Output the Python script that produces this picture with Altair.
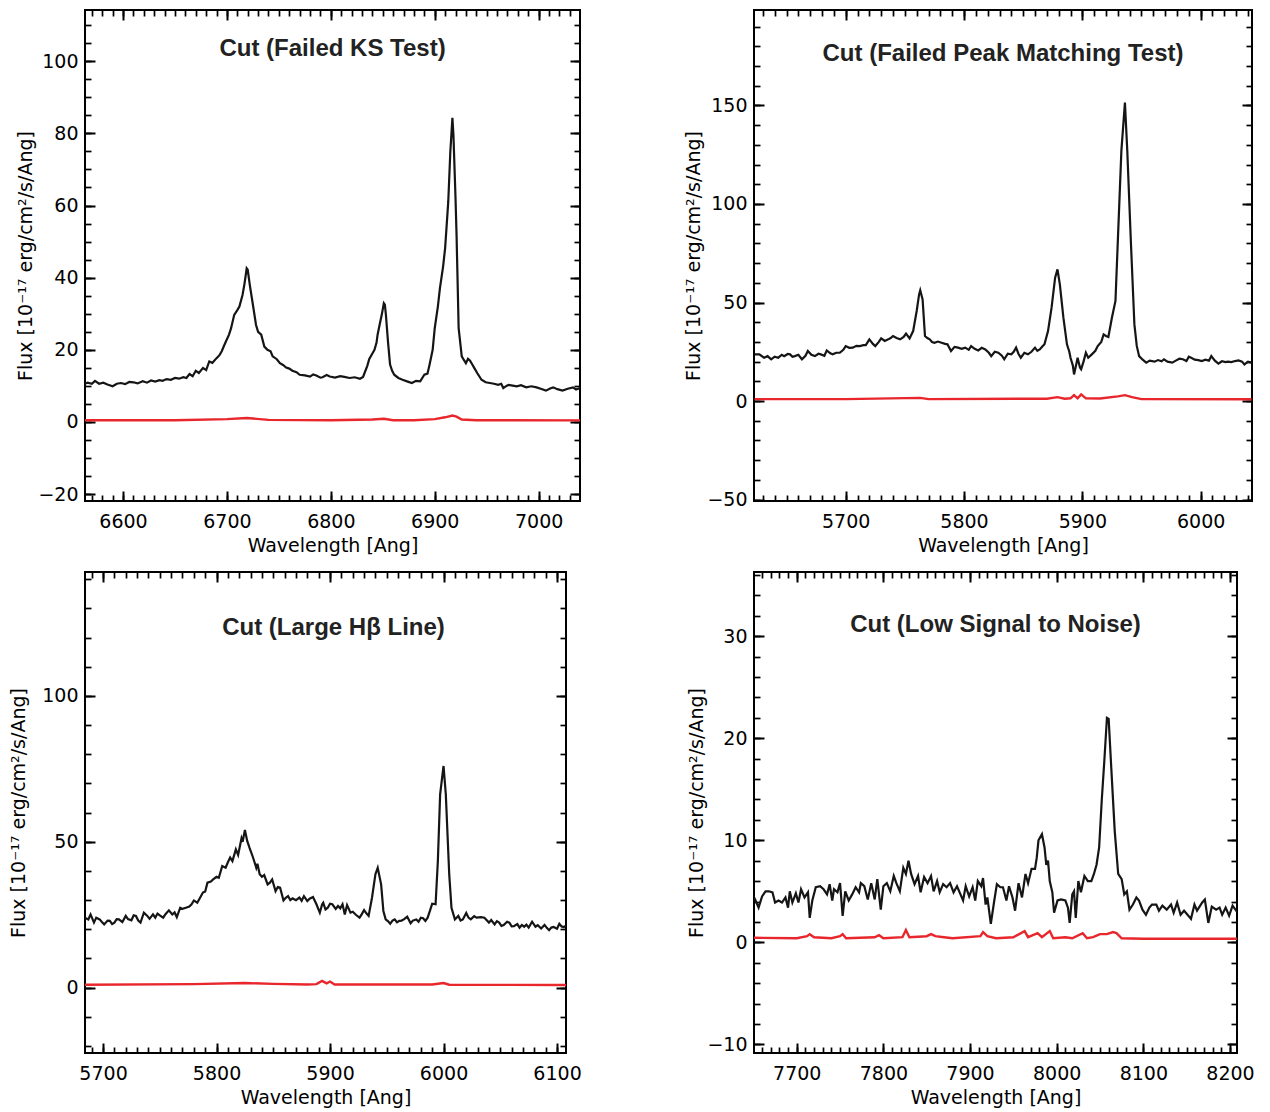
import altair as alt
import pandas as pd

# ---------------- data ----------------
P1_BLACK = [(6562,10.5),(6566,10.9),(6570,10.6),(6573,11.4),(6577,10.6),(6581,10.9),(6585,10.4),(6590,9.9),(6594,10.6),(6598,10.8),(6602,10.5),(6606,11.1),(6610,11.0),(6614,10.7),(6619,11.3),(6623,10.9),(6627,11.5),(6631,11.2),(6635,11.6),(6638,11.4),(6642,11.9),(6646,11.7),(6650,12.2),(6654,12.0),(6658,12.4),(6661,12.2),(6664,13.3),(6667,12.7),(6670,14.2),(6673,13.6),(6677,15.0),(6680,14.4),(6683,16.8),(6686,16.4),(6690,17.7),(6693,18.6),(6695,19.6),(6697,21.0),(6699,22.3),(6702,24.2),(6704,26.0),(6707,29.7),(6710,31.0),(6712,32.0),(6715,35.2),(6717,38.5),(6719,42.6),(6720,42.2),(6722,38.0),(6725,32.5),(6728,26.9),(6730,25.0),(6733,24.2),(6736,20.9),(6739,20.0),(6742,19.6),(6744,18.2),(6748,17.4),(6751,16.3),(6754,15.8),(6757,15.1),(6760,14.8),(6763,14.2),(6767,13.8),(6770,13.1),(6775,12.9),(6780,12.6),(6783,13.2),(6786,12.9),(6790,12.3),(6792,12.4),(6796,13.0),(6799,12.6),(6804,12.3),(6809,12.7),(6813,12.5),(6818,12.2),(6823,12.4),(6828,12.0),(6831,12.5),(6833,14.0),(6835,15.5),(6837,17.5),(6840,19.0),(6842,20.0),(6844,22.0),(6845,24.2),(6847,27.0),(6849,29.7),(6851,32.9),(6852,32.5),(6853,29.7),(6855,22.3),(6857,15.9),(6859,14.2),(6861,13.1),(6865,12.2),(6869,11.7),(6874,11.2),(6878,10.8),(6882,11.4),(6886,11.3),(6890,13.1),(6893,13.4),(6895,15.9),(6898,20.0),(6900,26.0),(6903,32.0),(6905,37.1),(6908,43.0),(6910,48.2),(6913,61.0),(6915,74.9),(6917,84.3),(6918,79.5),(6920,62.0),(6921,51.8),(6923,26.0),(6926,18.2),(6928,17.2),(6930,16.3),(6932,17.5),(6934,17.0),(6936,16.0),(6938,15.0),(6941,13.5),(6945,11.7),(6949,11.0),(6953,10.8),(6957,10.6),(6961,10.3),(6964,10.6),(6966,9.4),(6969,10.0),(6971,10.3),(6975,10.1),(6979,9.9),(6983,10.2),(6988,9.6),(6993,9.9),(6998,9.6),(7002,9.2),(7007,8.7),(7011,9.3),(7014,9.6),(7018,9.1),(7023,8.7),(7028,9.2),(7033,9.6),(7036,9.0),(7040,9.4)]
P1_RED = [(6562,0.5),(6650,0.5),(6700,0.8),(6719,1.1),(6740,0.6),(6800,0.5),(6840,0.7),(6851,0.9),(6860,0.5),(6880,0.5),(6900,0.8),(6910,1.3),(6917,1.8),(6921,1.5),(6926,0.7),(6940,0.5),(7040,0.45)]

P2_BLACK = [(5623,23.7),(5627,23.7),(5631,22.0),(5634,22.8),(5637,21.2),(5640,22.5),(5643,22.0),(5646,23.5),(5648,22.8),(5651,23.9),(5653,23.7),(5655,22.5),(5657,22.8),(5660,23.5),(5663,21.2),(5666,23.0),(5668,25.4),(5671,23.5),(5674,22.8),(5677,24.0),(5679,23.7),(5682,23.0),(5684,25.7),(5687,24.2),(5689,23.7),(5692,24.5),(5695,24.5),(5698,26.0),(5700,27.9),(5703,27.0),(5706,27.1),(5709,28.0),(5712,27.9),(5715,28.4),(5717,28.4),(5720,31.3),(5723,29.0),(5725,27.9),(5728,30.0),(5730,31.8),(5733,30.5),(5736,31.3),(5738,32.0),(5740,33.0),(5743,32.0),(5746,31.3),(5749,32.5),(5751,34.2),(5754,31.8),(5757,35.5),(5760,45.7),(5762,54.0),(5763,56.2),(5765,51.6),(5767,33.0),(5769,32.0),(5771,31.3),(5773,30.0),(5775,29.6),(5778,30.2),(5781,29.6),(5784,29.0),(5786,28.8),(5789,25.4),(5792,27.5),(5795,27.1),(5798,26.5),(5801,27.1),(5804,26.0),(5806,27.9),(5809,26.5),(5812,25.7),(5815,27.0),(5818,26.2),(5821,24.5),(5823,22.8),(5826,25.0),(5829,24.5),(5832,23.0),(5834,21.2),(5837,24.0),(5840,23.7),(5842,25.0),(5844,27.1),(5846,24.0),(5848,22.0),(5851,24.5),(5854,23.7),(5857,25.0),(5860,27.1),(5862,25.5),(5864,26.2),(5866,27.5),(5868,28.8),(5871,35.5),(5874,47.4),(5877,62.6),(5879,66.8),(5881,59.2),(5884,42.3),(5887,28.8),(5889,25.0),(5890,22.0),(5892,18.0),(5893,13.5),(5895,19.0),(5896,22.0),(5898,17.0),(5899,16.1),(5901,20.0),(5903,24.5),(5905,22.0),(5908,23.7),(5911,25.5),(5913,27.9),(5916,30.0),(5918,33.8),(5920,33.0),(5922,32.5),(5925,42.3),(5928,50.8),(5930,81.2),(5933,126.9),(5936,151.4),(5938,126.9),(5941,81.2),(5944,38.9),(5946,28.0),(5948,22.8),(5951,21.0),(5954,19.5),(5957,20.5),(5961,20.0),(5964,20.8),(5967,20.2),(5969,21.2),(5972,20.0),(5976,19.5),(5979,20.5),(5982,21.5),(5985,21.2),(5988,20.3),(5990,22.5),(5992,22.0),(5995,21.0),(5998,20.8),(6001,20.3),(6004,21.0),(6007,20.5),(6009,22.8),(6012,20.5),(6015,19.0),(6018,20.2),(6021,19.8),(6023,20.0),(6026,19.8),(6029,20.3),(6032,20.6),(6035,20.0),(6037,18.6),(6040,20.0),(6043,19.5)]
P2_RED = [(5623,1.0),(5700,1.0),(5763,1.6),(5770,1.0),(5870,1.2),(5879,2.0),(5885,1.2),(5890,1.4),(5893,3.0),(5896,1.4),(5899,3.4),(5903,1.4),(5915,1.3),(5930,2.4),(5936,3.0),(5942,2.0),(5950,1.0),(6043,0.9)]

P3_BLACK = [(5684,24.0),(5687,23.4),(5689,25.1),(5692,22.3),(5694,24.0),(5697,23.4),(5699,22.5),(5701,21.7),(5704,23.0),(5706,22.9),(5708,21.8),(5710,22.3),(5712,23.5),(5714,23.4),(5717,22.5),(5720,24.6),(5722,23.5),(5725,23.1),(5727,24.8),(5729,24.6),(5731,23.0),(5733,22.3),(5736,25.7),(5739,24.6),(5741,23.6),(5744,25.1),(5746,24.0),(5748,25.4),(5750,24.8),(5753,24.0),(5755,25.2),(5758,26.5),(5761,25.1),(5763,25.8),(5765,24.2),(5768,27.4),(5770,27.0),(5773,27.4),(5776,27.8),(5778,28.6),(5780,29.9),(5783,29.1),(5785,30.5),(5788,32.6),(5790,33.0),(5792,36.0),(5795,36.4),(5797,37.1),(5800,38.0),(5802,37.7),(5805,41.7),(5808,41.1),(5810,43.0),(5812,44.6),(5814,43.4),(5817,47.4),(5819,45.5),(5822,51.2),(5823,50.0),(5825,54.1),(5827,50.3),(5829,48.0),(5832,44.8),(5835,41.1),(5836,42.5),(5838,38.9),(5840,38.0),(5842,38.6),(5845,35.4),(5847,36.0),(5849,37.1),(5852,33.1),(5854,34.5),(5856,34.3),(5859,29.9),(5861,30.8),(5863,31.4),(5865,30.0),(5867,30.6),(5870,30.0),(5873,30.9),(5875,29.8),(5877,31.4),(5880,29.7),(5882,30.5),(5885,31.1),(5888,28.6),(5891,25.7),(5893,28.5),(5894,29.1),(5896,26.8),(5898,27.4),(5900,28.8),(5902,28.6),(5905,27.0),(5907,28.0),(5909,27.2),(5911,28.6),(5913,25.1),(5915,28.3),(5918,25.7),(5920,26.0),(5923,24.9),(5926,24.0),(5928,25.2),(5930,26.6),(5932,25.5),(5934,24.6),(5937,30.9),(5940,38.9),(5942,41.1),(5945,35.4),(5947,26.3),(5949,23.4),(5951,22.8),(5953,21.9),(5955,23.0),(5957,23.4),(5959,22.4),(5961,22.9),(5963,23.0),(5965,23.4),(5968,24.3),(5971,22.1),(5973,23.0),(5976,23.4),(5978,22.6),(5980,24.0),(5982,23.8),(5984,22.9),(5986,24.0),(5988,26.3),(5990,28.8),(5993,28.6),(5995,43.4),(5997,66.3),(6000,76.0),(6002,66.3),(6005,38.9),(6007,27.4),(6010,23.4),(6013,24.6),(6015,23.0),(6017,23.4),(6020,25.6),(6022,24.0),(6024,23.4),(6027,24.5),(6029,24.0),(6033,24.2),(6036,24.0),(6040,22.3),(6042,23.2),(6045,21.7),(6047,22.8),(6049,22.3),(6051,21.2),(6053,21.5),(6056,22.6),(6058,22.3),(6060,21.0),(6062,21.1),(6065,21.8),(6067,20.6),(6069,21.5),(6071,20.9),(6073,21.6),(6075,20.6),(6078,22.6),(6081,20.9),(6083,21.4),(6086,20.3),(6089,21.5),(6091,20.5),(6093,19.7),(6095,20.6),(6097,20.8),(6100,20.2),(6102,21.9),(6104,21.0),(6106,20.8),(6108,21.2)]
P3_RED = [(5684,1.0),(5780,1.2),(5825,1.6),(5850,1.3),(5880,1.1),(5888,1.2),(5893,2.3),(5897,1.5),(5900,2.1),(5904,1.1),(5990,1.1),(6000,1.6),(6005,1.0),(6108,0.9)]

P4_BLACK = [(7644,5.7),(7646,3.7),(7649,4.7),(7652,4.2),(7656,3.4),(7660,4.5),(7664,5.0),(7668,5.0),(7672,4.9),(7675,3.9),(7679,4.1),(7683,3.9),(7687,4.4),(7690,3.4),(7692,5.0),(7695,3.9),(7699,4.8),(7702,3.9),(7705,5.2),(7709,4.4),(7713,4.9),(7715,2.4),(7718,4.1),(7722,5.4),(7727,5.5),(7731,5.2),(7735,4.7),(7738,5.7),(7741,4.1),(7743,5.2),(7747,4.9),(7750,5.8),(7753,2.6),(7756,5.0),(7760,4.1),(7764,4.7),(7768,5.4),(7772,4.9),(7774,5.8),(7778,5.5),(7782,4.2),(7786,5.8),(7790,4.2),(7793,6.2),(7797,3.2),(7800,5.5),(7804,5.8),(7808,5.0),(7812,6.5),(7815,5.8),(7819,5.0),(7823,7.3),(7826,6.7),(7829,8.0),(7832,6.7),(7836,5.7),(7840,6.5),(7843,4.9),(7847,6.4),(7851,5.8),(7855,6.5),(7858,5.0),(7862,6.0),(7865,4.9),(7869,5.7),(7873,5.4),(7877,5.8),(7881,4.9),(7885,5.5),(7888,4.9),(7892,4.1),(7895,5.5),(7899,4.5),(7903,5.4),(7906,4.1),(7909,6.0),(7913,5.5),(7915,6.3),(7918,3.7),(7920,4.4),(7924,1.8),(7928,4.1),(7931,5.7),(7935,5.4),(7938,5.4),(7942,4.1),(7945,5.5),(7949,4.4),(7952,3.1),(7956,5.8),(7960,4.4),(7964,6.7),(7967,5.8),(7971,7.2),(7975,7.2),(7977,8.3),(7979,10.0),(7983,10.6),(7986,9.3),(7988,7.6),(7990,8.0),(7992,6.0),(7995,4.9),(7997,2.9),(8001,4.1),(8005,4.2),(8010,4.1),(8013,3.4),(8015,1.9),(8018,4.7),(8020,5.0),(8022,2.4),(8025,6.0),(8028,4.9),(8032,6.5),(8036,6.0),(8040,6.0),(8043,6.7),(8046,7.6),(8049,9.3),(8052,13.9),(8055,17.8),(8058,22.0),(8060,21.9),(8063,17.1),(8067,10.9),(8071,6.7),(8075,6.2),(8078,4.7),(8081,5.0),(8084,3.2),(8088,3.7),(8092,4.4),(8095,4.1),(8099,3.2),(8103,2.7),(8107,3.4),(8110,3.7),(8115,3.7),(8118,3.1),(8122,3.6),(8127,3.2),(8132,3.7),(8135,2.9),(8139,3.9),(8143,2.7),(8147,3.1),(8151,2.7),(8155,2.3),(8159,3.7),(8162,3.1),(8168,3.9),(8171,4.2),(8175,1.9),(8179,3.5),(8184,3.2),(8188,3.4),(8191,2.7),(8195,3.4),(8199,2.6),(8203,3.6),(8208,3.0)]
P4_RED = [(7644,0.45),(7700,0.4),(7712,0.6),(7715,0.8),(7720,0.5),(7740,0.4),(7750,0.6),(7753,0.8),(7757,0.4),(7790,0.5),(7795,0.7),(7800,0.4),(7822,0.5),(7826,1.2),(7830,0.5),(7850,0.6),(7855,0.8),(7860,0.6),(7870,0.5),(7880,0.4),(7912,0.6),(7915,1.0),(7920,0.6),(7930,0.4),(7950,0.5),(7963,1.1),(7967,0.5),(7978,0.9),(7983,0.5),(7992,1.1),(7996,0.4),(8010,0.5),(8018,0.4),(8030,0.9),(8035,0.4),(8042,0.5),(8050,0.8),(8058,0.8),(8065,1.0),(8069,0.9),(8075,0.4),(8100,0.35),(8150,0.35),(8208,0.35)]

TITLES = ["Cut (Failed KS Test)", "Cut (Failed Peak Matching Test)",
          "Cut (Large H\u03b2 Line)", "Cut (Low Signal to Noise)"]
X_TITLE = "Wavelength [Ang]"
Y_TITLE = "Flux [10\u207b\u00b9\u2077 erg/cm\u00b2/s/Ang]"

def rng(a, b, s):
    out, v = [], a
    while v <= b:
        out.append(v)
        v += s
    return out

FONT = "DejaVu Sans"
BLACK = "#151515"
RED = "#e8262c"
MAJ, MIN = 10, 6


def panel(black, red, xdom, ydom, xmaj, xmin, ymaj, ymin, title, w, h,
          toff, tdx, ytp):
    bdf = pd.DataFrame(black, columns=["wl", "flux"])
    rdf = pd.DataFrame(red, columns=["wl", "flux"])
    xs = alt.Scale(domain=xdom, nice=False, zero=False)
    ys = alt.Scale(domain=ydom, nice=False, zero=False)

    def ax(orient, values, size, labels=False, title=None, lp=0, tp=0):
        kw = dict(orient=orient, values=values, tickSize=size, offset=-size,
                  domain=False, grid=False, labels=labels, tickColor="black",
                  tickWidth=2 if size == MAJ else 1.7)
        if labels:
            kw.update(format="d", labelPadding=lp, labelFont=FONT,
                      labelFontSize=19, labelColor="black")
        if title:
            kw.update(title=title, titlePadding=tp, titleFont=FONT,
                      titleFontSize=19, titleFontWeight="normal",
                      titleColor="black")
        else:
            kw.update(title=None)
        return alt.Axis(**kw)

    def X(axis):
        return alt.X("wl:Q", scale=xs, axis=axis)

    def Y(axis):
        return alt.Y("flux:Q", scale=ys, axis=axis)

    black_line = alt.Chart(bdf).mark_line(color=BLACK, strokeWidth=2.2, clip=True).encode(
        x=X(ax("bottom", xmaj, MAJ, True, X_TITLE, 11, 5)),
        y=Y(ax("left", ymaj, MAJ, True, Y_TITLE, 7, ytp)),
    )
    red_line = alt.Chart(rdf).mark_line(color=RED, strokeWidth=2.4, clip=True).encode(
        x=X(ax("top", xmaj, MAJ)),
        y=Y(ax("right", ymaj, MAJ)),
    )
    minor_a = alt.Chart(bdf).mark_line(strokeOpacity=0, clip=True).encode(
        x=X(ax("bottom", xmin, MIN)),
        y=Y(ax("left", ymin, MIN)),
    )
    minor_b = alt.Chart(rdf).mark_line(strokeOpacity=0, clip=True).encode(
        x=X(ax("top", xmin, MIN)),
        y=Y(ax("right", ymin, MIN)),
    )
    return alt.layer(black_line, red_line, minor_a, minor_b).resolve_axis(
        x="independent", y="independent"
    ).properties(
        width=w, height=h,
        title=alt.TitleParams(text=title, anchor="middle", offset=toff, dx=tdx,
                              font="Liberation Sans", fontSize=24,
                              fontWeight="bold", color="#222222"),
    )


p1 = panel(P1_BLACK, P1_RED, [6563.4, 7039.8], [-21.9, 114.2],
           rng(6600, 7000, 100), rng(6570, 7030, 10),
           rng(-20, 100, 20), rng(-20, 110, 5),
           TITLES[0], 495, 491, -52, 0, 2)
p2 = panel(P2_BLACK, P2_RED, [5622.5, 6043.4], [-50.7, 198.4],
           rng(5700, 6000, 100), rng(5630, 6040, 10),
           rng(-50, 150, 50), rng(-50, 190, 10),
           TITLES[1], 498, 491, -57, 0, 3)
p3 = panel(P3_BLACK, P3_RED, [5684.1, 6107.9], [-22.4, 142.5],
           rng(5700, 6100, 100), rng(5690, 6100, 10),
           rng(0, 100, 50), rng(-20, 140, 10),
           TITLES[2], 481, 481, -69, 8, 13)
p4 = panel(P4_BLACK, P4_RED, [7650.7, 8208.1], [-10.85, 36.3],
           rng(7700, 8200, 100), rng(7660, 8200, 10),
           rng(-10, 30, 10), rng(-10, 36, 2),
           TITLES[3], 483, 481, -66, 0, 0)

chart = alt.concat(
    p1, p2, p3, p4, columns=2, bounds="flush",
    spacing={"row": 71, "column": 174},
).properties(
    padding={"left": 0, "top": 0, "right": 5, "bottom": 5},
    background="white",
).configure_view(
    stroke="black", strokeWidth=2
)

chart.save("out.html", embed_options={"renderer": "svg", "actions": False})
